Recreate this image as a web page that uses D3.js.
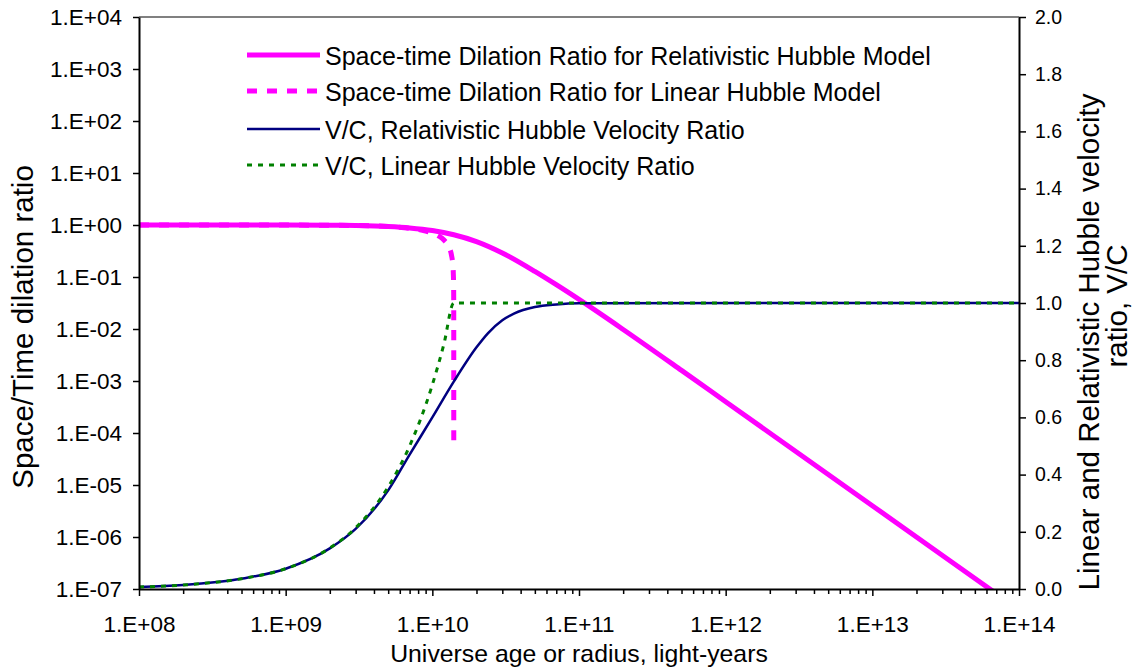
<html>
<head>
  <meta charset="utf-8">
  <title>Space-time dilation ratio</title>
  <script src="https://d3js.org/d3.v7.min.js"></script>
  <style>
    body { margin: 0; background: #fff; }
    text { font-family: "Liberation Sans", Arial, sans-serif; fill: #000; }
  </style>
</head>
<body>
  <svg width="1135" height="671"></svg>
  <script>
    // axis ranges and ticks
    const xTicks = [1e8, 1e9, 1e10, 1e11, 1e12, 1e13, 1e14];
    const yLeftTicks = [1e-7, 1e-6, 1e-5, 1e-4, 1e-3, 1e-2, 1e-1, 1e0, 1e1, 1e2, 1e3, 1e4];
    const yRightTicks = [0, 0.2, 0.4, 0.6, 0.8, 1.0, 1.2, 1.4, 1.6, 1.8, 2.0];

    // Space-time dilation ratio, relativistic Hubble model (left axis)
    const relDilX = [1e8, 1e9, 2e9, 3e9, 5e9, 7e9, 1e10, 1.4e10, 2e10, 3e10, 5e10, 7e10, 1e11, 2e11, 5e11, 1e12, 1e13, 1e14];
    const relDilY = [1.0, 0.997, 0.989, 0.976, 0.935, 0.88, 0.785, 0.65, 0.48, 0.29, 0.128, 0.071, 0.037, 0.0098, 0.0016, 4.0e-4, 4.0e-6, 4.0e-8];

    // Space-time dilation ratio, linear Hubble model (left axis)
    const linDilX = [1e8, 1e9, 3e9, 5e9, 7e9, 9e9, 1e10, 1.1e10, 1.2e10, 1.3e10, 1.35e10, 1.38e10, 1.39e10, 1.397e10, 1.3995e10, 1.4e10];
    const linDilY = [1.0, 0.997, 0.977, 0.934, 0.866, 0.766, 0.70, 0.62, 0.515, 0.37, 0.265, 0.17, 0.12, 0.065, 0.027, 6.4e-5];

    // V/C, relativistic Hubble velocity ratio (right axis)
    const relVX = [1e8, 2e8, 5e8, 1e9, 2e9, 3e9, 5e9, 7e9, 1e10, 1.4e10, 2e10, 2.4e10, 3e10, 3.6e10, 5e10, 7e10, 1e11, 1e14];
    const relVY = [0.007, 0.014, 0.036, 0.071, 0.142, 0.21, 0.345, 0.47, 0.60, 0.725, 0.845, 0.895, 0.94, 0.963, 0.986, 0.995, 0.999, 1.0];

    // V/C, linear Hubble velocity ratio (right axis)
    const linVX = [1e8, 2e8, 5e8, 1e9, 2e9, 3e9, 5e9, 7e9, 1e10, 1.2e10, 1.4e10, 1e14];
    const linVY = [0.007, 0.014, 0.036, 0.071, 0.143, 0.214, 0.357, 0.5, 0.714, 0.857, 1.0, 1.0];

    const legendNames = [
      "Space-time Dilation Ratio for Relativistic Hubble Model",
      "Space-time Dilation Ratio for Linear Hubble Model",
      "V/C, Relativistic Hubble Velocity Ratio",
      "V/C, Linear Hubble Velocity Ratio"
    ];

    const plotL = 139, plotR = 1019, plotT = 17, plotB = 589;
    const svg = d3.select("svg");

    const x = d3.scaleLog().domain([1e8, 1e14]).range([plotL, plotR]);
    const yL = d3.scaleLog().domain([1e-7, 1e4]).range([plotB, plotT]);
    const yR = d3.scaleLinear().domain([0, 2]).range([plotB, plotT]);

    const expFmt = d => {
      const e = Math.round(Math.log10(d));
      return "1.E" + (e < 0 ? "-" : "+") + String(Math.abs(e)).padStart(2, "0");
    };

    svg.append("clipPath").attr("id", "plot")
      .append("rect")
      .attr("x", plotL).attr("y", plotT - 3)
      .attr("width", plotR - plotL).attr("height", plotB - plotT + 3);

    // top border
    svg.append("line")
      .attr("x1", plotL).attr("x2", plotR)
      .attr("y1", plotT).attr("y2", plotT)
      .attr("stroke", "#808080").attr("stroke-width", 2);

    const series = [
      { xs: relDilX, ys: relDilY, y: yL, color: "#ff00ff", width: 5, dash: null },
      { xs: linDilX, ys: linDilY, y: yL, color: "#ff00ff", width: 5, dash: "10,10" },
      { xs: relVX, ys: relVY, y: yR, color: "#000080", width: 2.5, dash: null },
      { xs: linVX, ys: linVY, y: yR, color: "#008000", width: 3, dash: "5,6" }
    ];

    const lines = svg.append("g").attr("clip-path", "url(#plot)");
    series.forEach(s => {
      const pts = s.xs.map((v, i) => [x(v), s.y(s.ys[i])]);
      lines.append("path")
        .attr("d", d3.line().curve(d3.curveMonotoneX)(pts))
        .attr("fill", "none")
        .attr("stroke", s.color)
        .attr("stroke-width", s.width)
        .attr("stroke-dasharray", s.dash);
    });

    // axes
    const styleAxis = (g, size) => {
      g.select(".domain").attr("stroke", "#000").attr("stroke-width", 2);
      g.selectAll(".tick line").attr("stroke", "#000").attr("stroke-width", 1.5);
      g.selectAll("text").style("font-size", size + "px")
        .style("font-family", '"Liberation Sans", Arial, sans-serif').attr("fill", "#000");
    };

    const minorX = [];
    for (let e = 8; e < 14; e++) {
      for (let m = 2; m <= 9; m++) minorX.push(m * Math.pow(10, e));
    }
    svg.append("g")
      .attr("transform", `translate(0,${plotB})`)
      .call(d3.axisBottom(x).tickValues(minorX).tickFormat("").tickSize(5).tickSizeOuter(0))
      .call(g => { g.select(".domain").remove(); g.selectAll(".tick line").attr("stroke", "#000").attr("stroke-width", 1.5); });

    svg.append("g")
      .attr("transform", `translate(0,${plotB})`)
      .call(d3.axisBottom(x).tickValues(xTicks).tickFormat(expFmt).tickSize(7).tickPadding(20).tickSizeOuter(0))
      .call(g => styleAxis(g, 22.5));

    svg.append("g")
      .attr("transform", `translate(${plotL},0)`)
      .call(d3.axisLeft(yL).tickValues(yLeftTicks).tickFormat(expFmt).tickSize(6).tickPadding(11).tickSizeOuter(0))
      .call(g => styleAxis(g, 22.5));

    svg.append("g")
      .attr("transform", `translate(${plotR},0)`)
      .call(d3.axisRight(yR).tickValues(yRightTicks).tickFormat(d3.format(".1f")).tickSize(7).tickPadding(9).tickSizeOuter(0))
      .call(g => styleAxis(g, 19.5));

    // axis titles
    svg.append("text")
      .attr("x", (plotL + plotR) / 2).attr("y", 662)
      .attr("text-anchor", "middle")
      .style("font-size", "24.8px")
      .text("Universe age or radius, light-years");

    svg.append("text")
      .attr("transform", "translate(33,327) rotate(-90)")
      .attr("text-anchor", "middle")
      .style("font-size", "29.5px")
      .text("Space/Time dilation ratio");

    svg.append("text")
      .attr("transform", "translate(1099,342) rotate(-90)")
      .attr("text-anchor", "middle")
      .style("font-size", "29.5px")
      .text("Linear and Relativistic Hubble velocity");

    svg.append("text")
      .attr("transform", "translate(1127,306) rotate(-90)")
      .attr("text-anchor", "middle")
      .style("font-size", "29.5px")
      .text("ratio, V/C");

    // legend
    const legendY = [55, 91, 129, 165];
    const legend = svg.append("g");
    series.forEach((s, i) => {
      legend.append("line")
        .attr("x1", 247).attr("x2", 320)
        .attr("y1", legendY[i]).attr("y2", legendY[i])
        .attr("stroke", s.color)
        .attr("stroke-width", s.width)
        .attr("stroke-dasharray", s.dash);
      legend.append("text")
        .attr("x", 325).attr("y", legendY[i] + 10)
        .style("font-size", "25px")
        .text(legendNames[i]);
    });
  </script>
</body>
</html>
